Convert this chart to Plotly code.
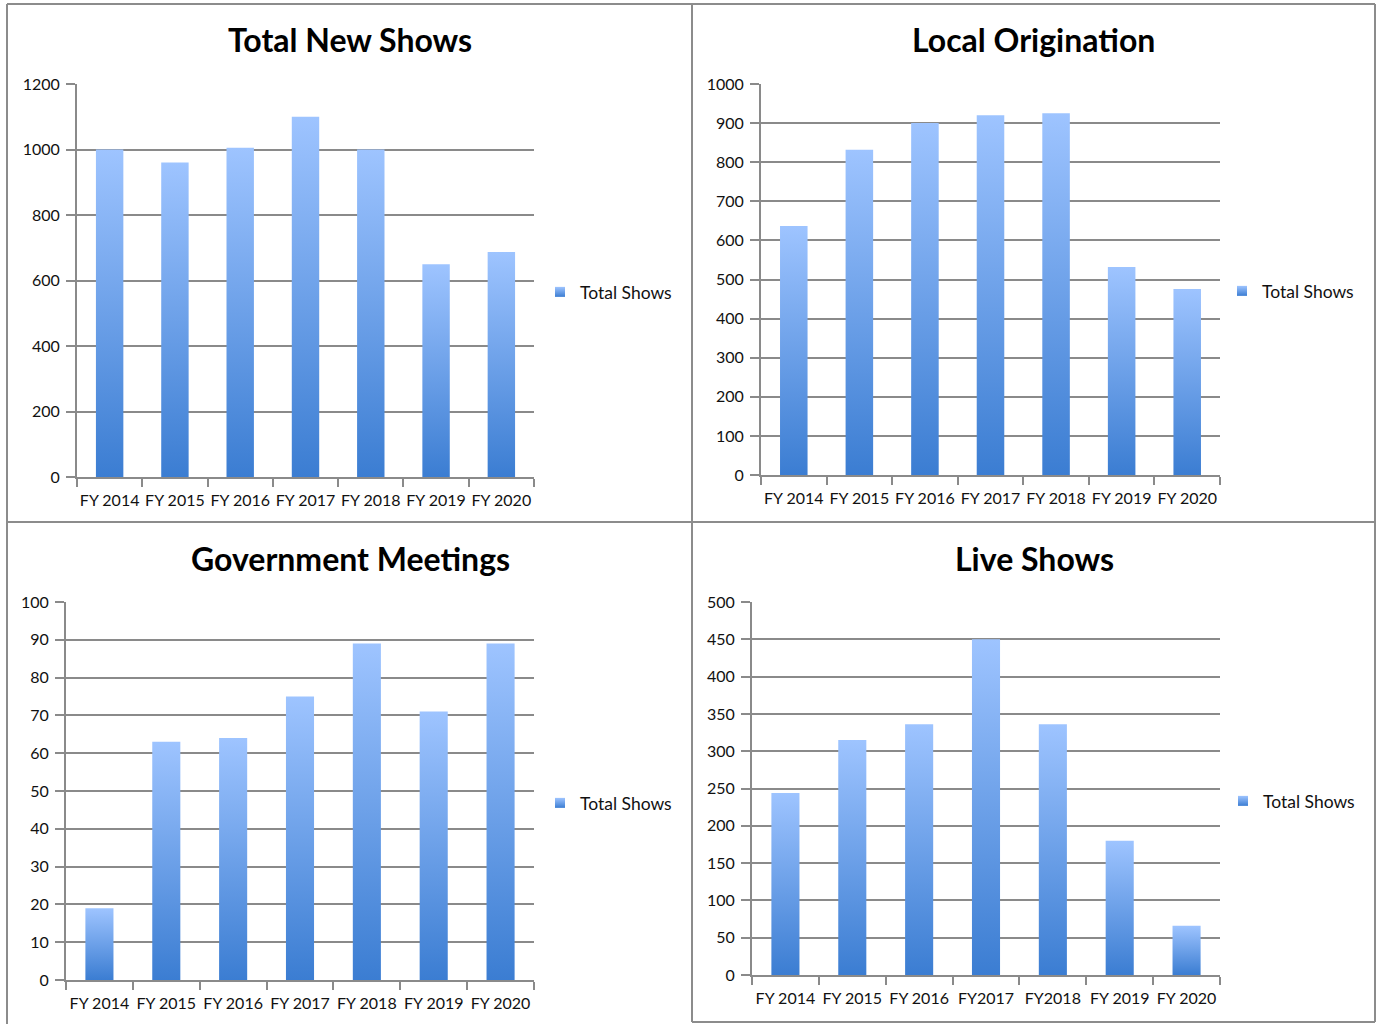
import plotly.graph_objects as go

W, H = 1380, 1024

# ---------------- data ----------------
categories_std = ["FY 2014", "FY 2015", "FY 2016", "FY 2017", "FY 2018", "FY 2019", "FY 2020"]
categories_live = ["FY 2014", "FY 2015", "FY 2016", "FY2017", "FY2018", "FY 2019", "FY 2020"]

total_new_shows = [1000, 960, 1005, 1100, 1000, 650, 687]
local_origination = [637, 832, 900, 920, 925, 532, 476]
government_meetings = [19, 63, 64, 75, 89, 71, 89]
live_shows = [244, 315, 336, 450, 336, 180, 66]

titles = ["Total New Shows", "Local Origination", "Government Meetings", "Live Shows"]
series_name = "Total Shows"
y_max = [1200, 1000, 100, 500]
y_step = [200, 100, 10, 50]

# ---------------- styling / layout ----------------
FONT = "Lato"
GRID = "#8a8a8a"
TOP_COLOR = "#9ec4ff"
BOTTOM_COLOR = "#3b7dd2"
BAR_WIDTH = 0.42

# panel geometry in pixels: (x_left, x_right), (y_bottom, y_top), legend anchor, title centre
panels = [
    dict(px=(77, 534), py=(477, 84), leg=(540, 292), tit=(350, 39)),
    dict(px=(761, 1220), py=(475, 84), leg=(1222, 291), tit=(1033, 39)),
    dict(px=(66, 534), py=(980, 602), leg=(540, 803), tit=(350, 558)),
    dict(px=(752, 1220), py=(975, 602), leg=(1223, 801), tit=(1034, 558)),
]

datasets = [
    (categories_std, total_new_shows),
    (categories_std, local_origination),
    (categories_std, government_meetings),
    (categories_live, live_shows),
]

fig = go.Figure()
layout = dict(
    width=W, height=H,
    margin=dict(l=0, r=0, t=0, b=0, autoexpand=False),
    paper_bgcolor="white", plot_bgcolor="white",
    font=dict(family=FONT, size=16, color="#111111"),
    showlegend=True,
)

annotations = []
shapes = []

for i, ((cats, vals), p, title, ymax, ystep) in enumerate(zip(datasets, panels, titles, y_max, y_step)):
    sfx = "" if i == 0 else str(i + 1)
    xa, ya = "x" + sfx, "y" + sfx
    leg = "legend" if i == 0 else "legend" + str(i + 1)
    n = len(cats)

    # bars as gradient-filled polygons (each bar gets its own gradient bottom->top)
    for k, v in enumerate(vals):
        x0, x1 = k - BAR_WIDTH / 2, k + BAR_WIDTH / 2
        fig.add_trace(go.Scatter(
            x=[x0, x1, x1, x0, x0], y=[0, 0, v, v, 0],
            mode="lines", fill="toself",
            line=dict(width=0, color="rgba(0,0,0,0)"),
            fillgradient=dict(type="vertical",
                              colorscale=[[0, BOTTOM_COLOR], [1, TOP_COLOR]]),
            xaxis=xa, yaxis=ya, showlegend=False,
            name=series_name, hoverinfo="skip",
        ))
    # hover points
    fig.add_trace(go.Scatter(
        x=list(range(n)), y=vals, mode="markers",
        marker=dict(symbol="square", size=10, color=TOP_COLOR, opacity=0),
        name=series_name, xaxis=xa, yaxis=ya, legend=leg, showlegend=False,
        customdata=cats, hovertemplate="%{customdata}: %{y}<extra></extra>",
    ))
    # legend entry
    fig.add_trace(go.Scatter(
        x=[None], y=[None], mode="markers",
        marker=dict(symbol="square", size=10, color=TOP_COLOR,
                    gradient=dict(type="vertical", color=BOTTOM_COLOR)),
        name=series_name, xaxis=xa, yaxis=ya, legend=leg, showlegend=True,
    ))

    xd = [p["px"][0] / W, p["px"][1] / W]
    yd = [1 - p["py"][0] / H, 1 - p["py"][1] / H]
    layout["xaxis" + sfx] = dict(
        domain=xd, anchor=ya, range=[-0.5, n - 0.5],
        tickmode="array", tickvals=list(range(n)), ticktext=cats,
        ticks="", showgrid=False, zeroline=False,
        showline=True, linecolor=GRID, linewidth=2,
        ticklabelstandoff=8,
        tickfont=dict(family=FONT, size=16, color="#111111"),
        minor=dict(tickmode="array", tickvals=[k - 0.5 for k in range(n + 1)],
                   ticks="outside", ticklen=8, tickwidth=2, tickcolor=GRID, showgrid=False),
        fixedrange=True,
    )
    layout["yaxis" + sfx] = dict(
        domain=yd, anchor=xa, range=[0, ymax], dtick=ystep, tick0=0,
        ticks="outside", ticklen=9, tickwidth=2, tickcolor=GRID,
        showgrid=True, gridcolor=GRID, gridwidth=2, zeroline=False,
        showline=True, linecolor=GRID, linewidth=2,
        tickfont=dict(family=FONT, size=16, color="#111111"),
        ticklabelstandoff=3,
        fixedrange=True,
    )
    layout[leg] = dict(
        x=p["leg"][0] / W, y=1 - p["leg"][1] / H, xanchor="left", yanchor="middle",
        bgcolor="rgba(0,0,0,0)", borderwidth=0,
        font=dict(family=FONT, size=17.5, color="#111111"),
    )
    annotations.append(dict(
        text="<b>" + title + "</b>", x=p["tit"][0] / W, y=1 - p["tit"][1] / H,
        xref="paper", yref="paper", xanchor="center", yanchor="middle",
        showarrow=False, font=dict(family=FONT, size=32, color="black"),
    ))

# panel borders
BORDER = "#8c8c8c"
def hline(y, x0, x1):
    return dict(type="line", xref="paper", yref="paper", x0=x0 / W, x1=x1 / W,
                y0=1 - y / H, y1=1 - y / H, line=dict(color=BORDER, width=2))
def vline(x, y0, y1):
    return dict(type="line", xref="paper", yref="paper", x0=x / W, x1=x / W,
                y0=1 - y0 / H, y1=1 - y1 / H, line=dict(color=BORDER, width=2))

shapes += [
    hline(4, 7, 1375), hline(522, 7, 1375), hline(1022, 692, 1375),
    vline(7, 4, 1024), vline(692, 4, 1022), vline(1375, 4, 1022),
]

layout["annotations"] = annotations
layout["shapes"] = shapes
fig.update_layout(**layout)
fig.write_html("out.html", config={"displayModeBar": False},
               post_script="document.body.style.margin='0px';")
